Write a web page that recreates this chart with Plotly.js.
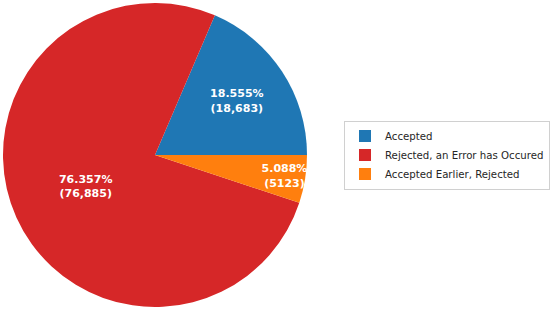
<!DOCTYPE html>
<html>
<head>
<meta charset="utf-8">
<script src="https://cdn.plot.ly/plotly-3.0.1.min.js"></script>
<style>html,body{margin:0;padding:0;background:#fff;}#chart{width:550px;height:310px;}</style>
</head>
<body>
<div id="chart"></div>
<script>
const categories = ["Accepted", "Rejected, an Error has Occured", "Accepted Earlier, Rejected"];
const counts = [18683, 76885, 5123];
const countLabels = ["18,683", "76,885", "5123"];
const colors = ["#1f77b4", "#d62728", "#ff7f0e"];

// matplotlib-style start: first wedge begins at 3 o'clock and runs counterclockwise.
// Plotly (counterclockwise) places the first slice clockwise of `rotation`, so shift by its angle.
const total = counts.reduce((a, b) => a + b, 0);
const rotation = 90 - 360 * counts[0] / total;

const trace = {
  type: "pie",
  labels: categories,
  values: counts,
  customdata: countLabels,
  texttemplate: "%{percent:.3%}<br>(%{customdata})",
  textposition: "inside",
  insidetextorientation: "horizontal",
  textfont: {family: "DejaVu Sans", size: 11, color: "#ffffff", weight: "bold"},
  marker: {colors: colors, line: {width: 0}},
  sort: false,
  direction: "counterclockwise",
  rotation: rotation,
  domain: {x: [3/550, 307/550], y: [2/310, 308/310]},
  hoverinfo: "none"
};

const layout = {
  width: 550, height: 310,
  margin: {l: 0, r: 0, t: 0, b: 0, autoexpand: false},
  paper_bgcolor: "#ffffff",
  showlegend: true,
  uniformtext: {mode: "show", minsize: 11},
  legend: {
    x: 344/550, xanchor: "left",
    y: 155/310, yanchor: "middle",
    bordercolor: "#d0d0d0", borderwidth: 1,
    font: {family: "DejaVu Sans", size: 10.2, color: "#262626"},
    traceorder: "normal"
  },
  font: {family: "DejaVu Sans"}
};

Plotly.newPlot("chart", [trace], layout, {staticPlot: true});
</script>
</body>
</html>
